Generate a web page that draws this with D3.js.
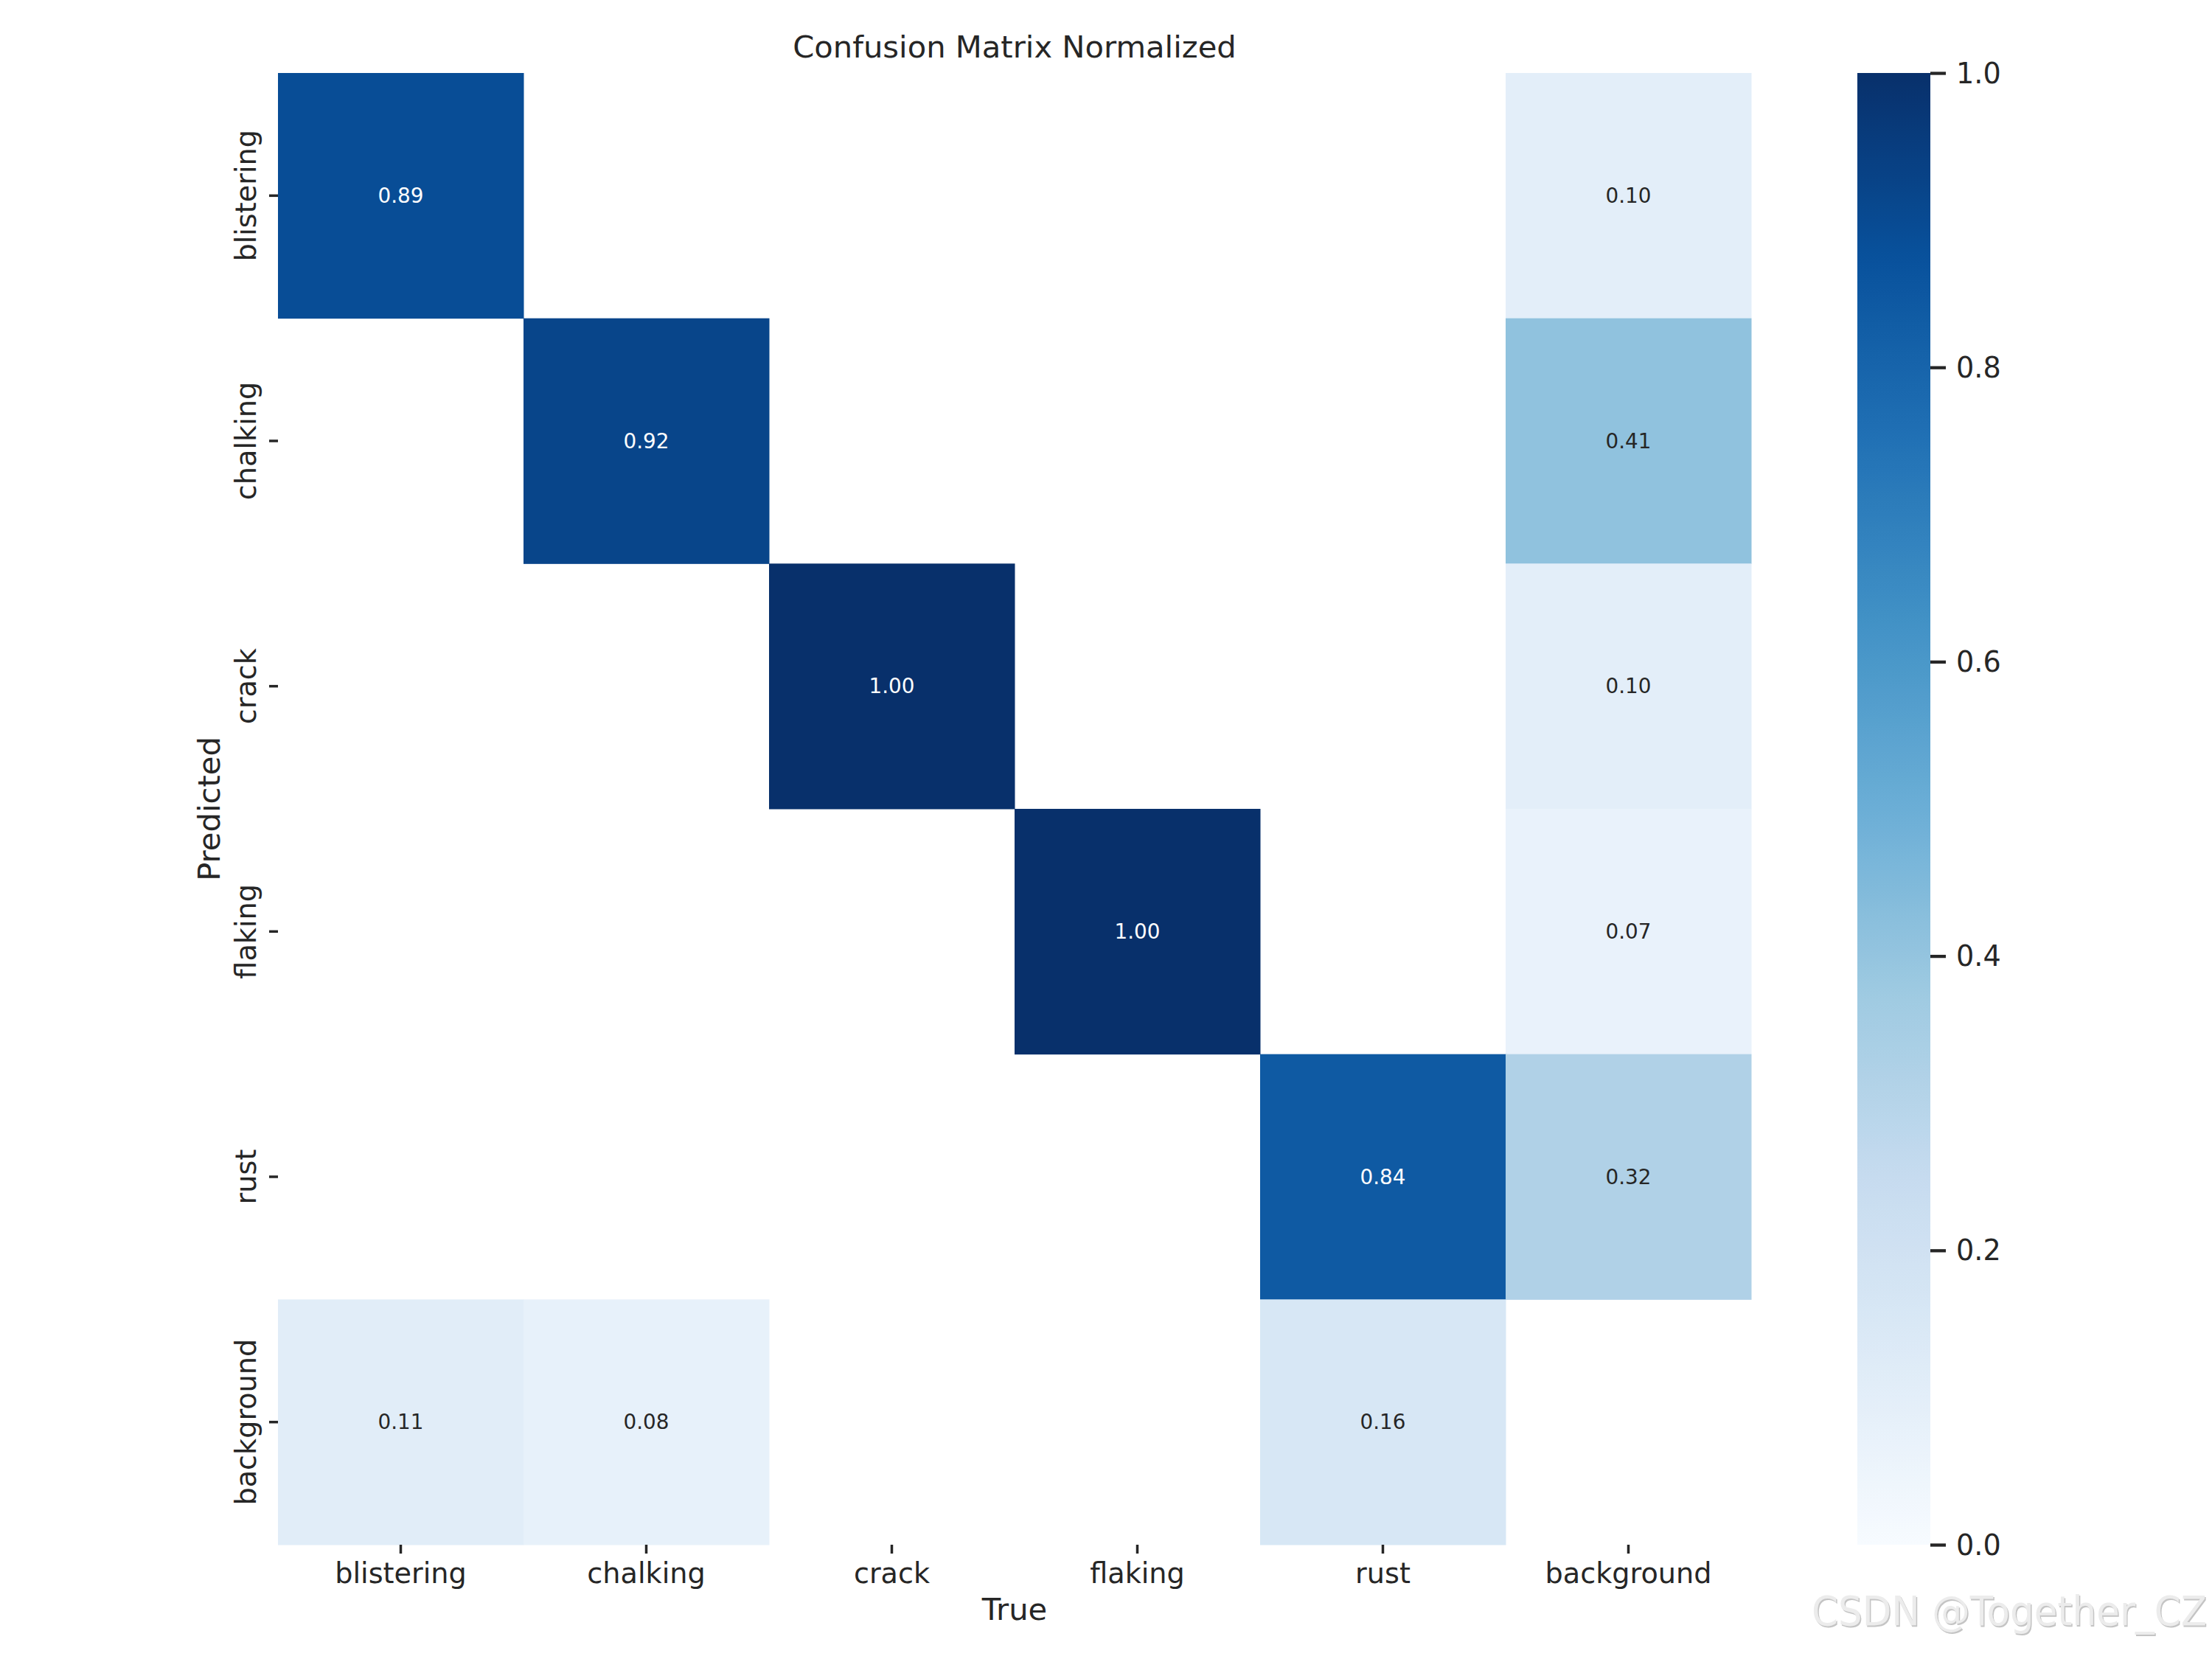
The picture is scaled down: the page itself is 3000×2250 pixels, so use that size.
<!DOCTYPE html>
<html>
<head>
<meta charset="utf-8">
<script src="https://cdn.jsdelivr.net/npm/d3@7"></script>
<style>
  html, body { margin: 0; padding: 0; background: #ffffff; }
  svg { display: block; }
  text { font-family: "DejaVu Sans", sans-serif; }
</style>
</head>
<body>
<svg id="chart" width="3000" height="2250"></svg>
<script>
// ---------- data ----------
const trueLabels = ["blistering", "chalking", "crack", "flaking", "rust", "background"];
const predLabels = ["blistering", "chalking", "crack", "flaking", "rust", "background"];
// rows = Predicted, columns = True (null = empty cell)
const rowBlistering = [0.89, null, null, null, null, 0.10];
const rowChalking   = [null, 0.92, null, null, null, 0.41];
const rowCrack      = [null, null, 1.00, null, null, 0.10];
const rowFlaking    = [null, null, null, 1.00, null, 0.07];
const rowRust       = [null, null, null, null, 0.84, 0.32];
const rowBackground = [0.11, 0.08, null, null, 0.16, null];
const colorbarTicks = [0.0, 0.2, 0.4, 0.6, 0.8, 1.0];
const titleText = "Confusion Matrix Normalized";
const xLabelText = "True";
const yLabelText = "Predicted";
const watermarkText = "CSDN @Together_CZ";

// matplotlib "Blues" colormap anchors
const bluesColors = ["#f7fbff", "#deebf7", "#c6dbef", "#9ecae1", "#6baed6",
                     "#4292c6", "#2171b5", "#08519c", "#08306b"];

const matrix = [rowBlistering, rowChalking, rowCrack, rowFlaking, rowRust, rowBackground];

// ---------- layout ----------
const svg = d3.select("#chart");
const mLeft = 377, mRight = 2375, mTop = 99, mBottom = 2095;
const ink = "#262626";

const x = d3.scaleBand().domain(trueLabels).range([mLeft, mRight]).padding(0);
const y = d3.scaleBand().domain(predLabels).range([mTop, mBottom]).padding(0);

const color = d3.scaleLinear()
  .domain(d3.range(bluesColors.length).map(i => i / (bluesColors.length - 1)))
  .range(bluesColors)
  .interpolate(d3.interpolateRgb)
  .clamp(true);

function luminance(c) {
  const rgb = d3.rgb(c);
  const f = v => { v /= 255; return v <= 0.03928 ? v / 12.92 : Math.pow((v + 0.055) / 1.055, 2.4); };
  return 0.2126 * f(rgb.r) + 0.7152 * f(rgb.g) + 0.0722 * f(rgb.b);
}

// cells
const cells = [];
matrix.forEach((row, i) => row.forEach((v, j) => {
  if (v !== null) cells.push({ pred: predLabels[i], tru: trueLabels[j], v });
}));

svg.append("g").selectAll("rect").data(cells).join("rect")
  .attr("x", d => x(d.tru))
  .attr("y", d => y(d.pred))
  .attr("width", x.bandwidth() + 0.5)
  .attr("height", y.bandwidth() + 0.5)
  .attr("fill", d => color(d.v));

svg.append("g").selectAll("text").data(cells).join("text")
  .attr("x", d => x(d.tru) + x.bandwidth() / 2)
  .attr("y", d => y(d.pred) + y.bandwidth() / 2)
  .attr("text-anchor", "middle")
  .attr("dominant-baseline", "central")
  .attr("font-size", 27.8)
  .attr("fill", d => luminance(color(d.v)) < 0.408 ? "#ffffff" : ink)
  .text(d => d.v.toFixed(2));

// x axis
const xAxis = d3.axisBottom(x).tickSize(12).tickPadding(0);
const gx = svg.append("g").attr("transform", `translate(0,${mBottom})`).call(xAxis);
gx.select(".domain").remove();
gx.selectAll(".tick line").attr("stroke", ink).attr("stroke-width", 3.5);
gx.selectAll(".tick text").attr("font-size", 38.2).attr("fill", ink)
  .attr("font-family", "DejaVu Sans")
  .attr("dy", null).attr("y", 52);

// y axis
const yAxis = d3.axisLeft(y).tickSize(12).tickPadding(0);
const gy = svg.append("g").attr("transform", `translate(${mLeft},0)`).call(yAxis);
gy.select(".domain").remove();
gy.selectAll(".tick line").attr("stroke", ink).attr("stroke-width", 3.5);
gy.selectAll(".tick text")
  .attr("font-size", 38.2).attr("fill", ink)
  .attr("font-family", "DejaVu Sans")
  .attr("x", null).attr("dy", null)
  .attr("text-anchor", "middle")
  .attr("transform", "translate(-30,0) rotate(-90)");

// axis labels & title
svg.append("text").attr("x", (mLeft + mRight) / 2).attr("y", 2197)
  .attr("text-anchor", "middle").attr("font-size", 41.7).attr("fill", ink).text(xLabelText);
svg.append("text").attr("transform", `translate(298,${(mTop + mBottom) / 2}) rotate(-90)`)
  .attr("text-anchor", "middle").attr("font-size", 41.7).attr("fill", ink).text(yLabelText);
svg.append("text").attr("x", (mLeft + mRight) / 2).attr("y", 78)
  .attr("text-anchor", "middle").attr("font-size", 41.7).attr("fill", ink).text(titleText);

// colorbar
const cbX = 2519, cbW = 99;
const cbScale = d3.scaleLinear().domain([0, 1]).range([mBottom, mTop]);
const defs = svg.append("defs");
const grad = defs.append("linearGradient").attr("id", "cbgrad")
  .attr("x1", 0).attr("y1", 1).attr("x2", 0).attr("y2", 0);
grad.selectAll("stop").data(d3.range(0, 1.0001, 0.01)).join("stop")
  .attr("offset", d => d).attr("stop-color", d => color(d));
svg.append("rect").attr("x", cbX).attr("y", mTop).attr("width", cbW)
  .attr("height", mBottom - mTop).attr("fill", "url(#cbgrad)");
const cbAxis = d3.axisRight(cbScale).tickValues(colorbarTicks)
  .tickFormat(d3.format(".1f")).tickSize(21).tickPadding(14);
const gcb = svg.append("g").attr("transform", `translate(${cbX + cbW},0)`).call(cbAxis);
gcb.select(".domain").remove();
gcb.selectAll(".tick line").attr("stroke", ink).attr("stroke-width", 4.3);
gcb.selectAll(".tick text").attr("font-size", 38.2).attr("fill", ink)
  .attr("font-family", "DejaVu Sans")
  .attr("dy", null).attr("dominant-baseline", "central");

// watermark (shadow + face), horizontally condensed
const wm = svg.append("g").attr("transform", "translate(2457,2204) scale(0.92,1)");
wm.append("text").attr("x", 1.6).attr("y", 1.5)
  .attr("font-family", "'Liberation Sans', sans-serif")
  .attr("font-size", 56)
  .attr("fill", "#c4c4c4")
  .text(watermarkText);
wm.append("text").attr("x", 0).attr("y", 0)
  .attr("font-family", "'Liberation Sans', sans-serif")
  .attr("font-size", 56)
  .attr("fill", "#ececec")
  .text(watermarkText);
</script>
</body>
</html>
